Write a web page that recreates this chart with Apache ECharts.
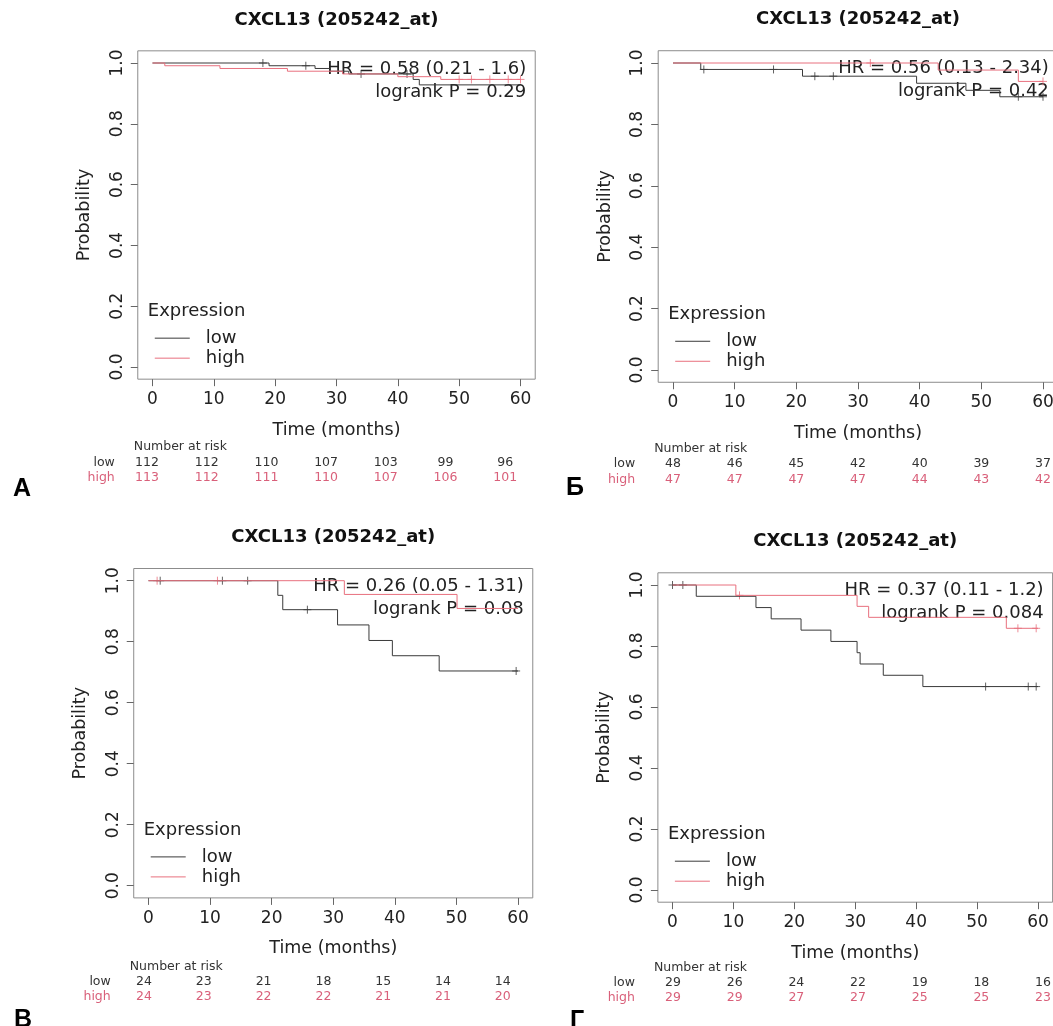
<!DOCTYPE html>
<html><head><meta charset="utf-8">
<script src="https://cdn.jsdelivr.net/npm/echarts@6/dist/echarts.min.js"></script>
<style>html,body{margin:0;padding:0;background:#fff}#c{width:1053px;height:1026px}</style>
</head><body><div id="c"></div>
<script>
// ---------------- data ----------------
const timeTicks = [0, 10, 20, 30, 40, 50, 60];
const probTicks = [0, 0.2, 0.4, 0.6, 0.8, 1.0];
const panelLetters = ['A', 'Б', 'В', 'Г'];
const chartTitle = 'CXCL13 (205242_at)';
const hrLabels = ['HR = 0.58 (0.21 - 1.6)', 'HR = 0.56 (0.13 - 2.34)', 'HR = 0.26 (0.05 - 1.31)', 'HR = 0.37 (0.11 - 1.2)'];
const pLabels = ['logrank P = 0.29', 'logrank P = 0.42', 'logrank P = 0.08', 'logrank P = 0.084'];
const groupNames = ['low', 'high'];

// Kaplan-Meier curves: [time (months), survival probability]
const lowCurveA  = [[0,1],[19,0.991],[26.5,0.982],[29,0.973],[32,0.964],[42.5,0.946],[43.5,0.928],[60,0.928]];
const highCurveA = [[0,1],[2,0.991],[11,0.982],[22,0.973],[31,0.964],[40,0.955],[47,0.946],[60,0.946]];
const lowCensA   = [[18,1],[25,0.991],[34,0.964],[41.5,0.964]];
const highCensA  = [[50,0.946],[52,0.946],[55,0.946],[58,0.946],[60,0.946]];

const lowCurveB  = [[0,1],[4.5,0.979],[21,0.957],[39.5,0.934],[47.5,0.911],[53,0.89],[60,0.89]];
const highCurveB = [[0,1],[43,0.977],[56,0.94],[60,0.94]];
const lowCensB   = [[5,0.979],[16.3,0.979],[23,0.957],[26,0.957],[56,0.89],[60,0.89]];
const highCensB  = [[32,1],[60,0.94]];

const lowCurveC  = [[0,1],[21,0.952],[21.8,0.905],[30.7,0.855],[35.8,0.804],[39.6,0.754],[47.2,0.704],[60,0.704]];
const highCurveC = [[0,1],[31.8,0.955],[50.1,0.909],[60,0.909]];
const lowCensC   = [[1.9,1],[12,1],[16.1,1],[25.8,0.905],[59.7,0.704]];
const highCensC  = [[1.4,1],[11.2,1]];

const lowCurveD  = [[0,1],[3.9,0.963],[13.7,0.926],[16.2,0.889],[21.1,0.852],[26,0.815],[30.3,0.778],[30.8,0.741],[34.6,0.704],[41.1,0.667],[60,0.667]];
const highCurveD = [[0,1],[10.4,0.966],[30.3,0.93],[32.2,0.894],[54.8,0.858],[60,0.858]];
const lowCensD   = [[0,1],[1.7,1],[51.4,0.667],[58.4,0.667],[59.7,0.667]];
const highCensD  = [[11,0.966],[56.7,0.858],[59.7,0.858]];

// Number at risk (at 0,10,...,60 months)
const riskLowA  = [112,112,110,107,103,99,96];
const riskHighA = [113,112,111,110,107,106,101];
const riskLowB  = [48,46,45,42,40,39,37];
const riskHighB = [47,47,47,47,44,43,42];
const riskLowC  = [24,23,21,18,15,14,14];
const riskHighC = [24,23,22,22,21,21,20];
const riskLowD  = [29,26,24,22,19,18,16];
const riskHighD = [29,29,27,27,25,25,23];

// ---------------- layout ----------------
const FONT = '"DejaVu Sans", sans-serif';
const LOW_COLOR = '#3a3a3a';
const HIGH_COLOR = '#e8707e';
const RISK_HIGH_COLOR = '#d9607a';
const BOX_COLOR = '#8c8c8c';

// pixel position of t=0, t=60, S=1, S=0 for each panel
const layout = [
  {x0:152.5, x60:520.5, y1:63,    y0:367,   riskX0:147, riskStep:59.7,  riskY:[447,463,478], letterXY:[22,489]},
  {x0:673,   x60:1043,  y1:63,    y0:370,   riskX0:673, riskStep:61.67, riskY:[449,464,480], letterXY:[575,488]},
  {x0:148.5, x60:518,   y1:580.7, y0:885.7, riskX0:144, riskStep:59.8,  riskY:[967,982,997], letterXY:[23,1020]},
  {x0:672.5, x60:1038,  y1:585,   y0:890,   riskX0:673, riskStep:61.67, riskY:[968,983,998], letterXY:[577,1021]}
];

const panels = [
  {low: lowCurveA, high: highCurveA, lowC: lowCensA, highC: highCensA, rLow: riskLowA, rHigh: riskHighA},
  {low: lowCurveB, high: highCurveB, lowC: lowCensB, highC: highCensB, rLow: riskLowB, rHigh: riskHighB},
  {low: lowCurveC, high: highCurveC, lowC: lowCensC, highC: highCensC, rLow: riskLowC, rHigh: riskHighC},
  {low: lowCurveD, high: highCurveD, lowC: lowCensD, highC: highCensD, rLow: riskLowD, rHigh: riskHighD}
];

const PLUS = 'path://M5,0L5,10M0,5L10,5';

const grids = [], xAxes = [], yAxes = [], series = [], graphics = [];

layout.forEach((L, i) => {
  const xr = L.x60 - L.x0, yr = L.y0 - L.y1;
  const g = {left: L.x0 - 0.04 * xr, top: L.y1 - 0.04 * yr, width: 1.08 * xr, height: 1.08 * yr};
  const gRight = g.left + g.width, gBottom = g.top + g.height, gCx = g.left + g.width / 2;
  grids.push({left: g.left, top: g.top, width: g.width, height: g.height, show: true,
    borderColor: BOX_COLOR, borderWidth: 1, backgroundColor: 'transparent',
    containLabel: false, outerBoundsMode: 'none'});
  xAxes.push({gridIndex: i, type: 'value', min: -2.4, max: 62.4, position: 'bottom',
    axisLine: {show: false, onZero: false},
    axisTick: {show: true, inside: false, customValues: timeTicks, length: 7, lineStyle: {color: '#666'}},
    axisLabel: {customValues: timeTicks, margin: 12, fontSize: 17, color: '#222', fontFamily: FONT},
    splitLine: {show: false},
    name: 'Time (months)', nameLocation: 'middle', nameGap: 42,
    nameTextStyle: {fontSize: 17.5, color: '#222', fontFamily: FONT}});
  yAxes.push({gridIndex: i, type: 'value', min: -0.04, max: 1.04, position: 'left',
    axisLine: {show: false, onZero: false},
    axisTick: {show: true, inside: false, customValues: probTicks, length: 7, lineStyle: {color: '#666'}},
    axisLabel: {customValues: probTicks, rotate: 90, margin: 12, fontSize: 17, color: '#222', fontFamily: FONT,
      formatter: v => v.toFixed(1)},
    splitLine: {show: false},
    name: 'Probability', nameLocation: 'middle', nameGap: 44,
    nameTextStyle: {fontSize: 17.5, color: '#222', fontFamily: FONT}});

  const P = panels[i];
  const base = {xAxisIndex: i, yAxisIndex: i, silent: true, animation: false};
  series.push(Object.assign({type: 'line', name: groupNames[0], data: P.low, step: 'end', showSymbol: false,
    lineStyle: {color: LOW_COLOR, width: 1}, itemStyle: {color: LOW_COLOR}}, base));
  series.push(Object.assign({type: 'line', name: groupNames[1], data: P.high, step: 'end', showSymbol: false,
    lineStyle: {color: HIGH_COLOR, width: 1}, itemStyle: {color: HIGH_COLOR}}, base));
  series.push(Object.assign({type: 'scatter', data: P.lowC, symbol: PLUS, symbolSize: 8,
    itemStyle: {color: 'rgba(0,0,0,0)', borderColor: LOW_COLOR, borderWidth: 1}}, base));
  series.push(Object.assign({type: 'scatter', data: P.highC, symbol: PLUS, symbolSize: 8,
    itemStyle: {color: 'rgba(0,0,0,0)', borderColor: HIGH_COLOR, borderWidth: 1}}, base));

  // title
  graphics.push({type: 'text', style: {x: gCx, y: g.top - 31, text: chartTitle,
    font: 'bold 18px ' + FONT, fill: '#111', align: 'center', verticalAlign: 'middle'}});
  // HR and logrank
  graphics.push({type: 'text', style: {x: gRight - 9, y: g.top + 18, text: hrLabels[i],
    font: '18px ' + FONT, fill: '#222', align: 'right', verticalAlign: 'middle'}});
  graphics.push({type: 'text', style: {x: gRight - 9, y: g.top + 41, text: pLabels[i],
    font: '18px ' + FONT, fill: '#222', align: 'right', verticalAlign: 'middle'}});
  // legend
  graphics.push({type: 'text', style: {x: g.left + 10, y: gBottom - 68, text: 'Expression',
    font: '18px ' + FONT, fill: '#222', align: 'left', verticalAlign: 'middle'}});
  [[groupNames[0], LOW_COLOR, gBottom - 41], [groupNames[1], HIGH_COLOR, gBottom - 21]].forEach(([nm, col, yy]) => {
    graphics.push({type: 'line', shape: {x1: g.left + 17, y1: yy, x2: g.left + 52, y2: yy},
      style: {stroke: col, lineWidth: 1}});
    graphics.push({type: 'text', style: {x: g.left + 68, y: yy, text: nm,
      font: '18px ' + FONT, fill: '#222', align: 'left', verticalAlign: 'middle'}});
  });
  // number at risk table
  graphics.push({type: 'text', style: {x: g.left - 4, y: L.riskY[0], text: 'Number at risk',
    font: '12.5px ' + FONT, fill: '#333', align: 'left', verticalAlign: 'middle'}});
  graphics.push({type: 'text', style: {x: g.left - 23, y: L.riskY[1], text: groupNames[0],
    font: '12.5px ' + FONT, fill: '#333', align: 'right', verticalAlign: 'middle'}});
  graphics.push({type: 'text', style: {x: g.left - 23, y: L.riskY[2], text: groupNames[1],
    font: '12.5px ' + FONT, fill: RISK_HIGH_COLOR, align: 'right', verticalAlign: 'middle'}});
  timeTicks.forEach((t, k) => {
    const xx = L.riskX0 + L.riskStep * t / 10;
    graphics.push({type: 'text', style: {x: xx, y: L.riskY[1], text: String(P.rLow[k]),
      font: '12.5px ' + FONT, fill: '#333', align: 'center', verticalAlign: 'middle'}});
    graphics.push({type: 'text', style: {x: xx, y: L.riskY[2], text: String(P.rHigh[k]),
      font: '12.5px ' + FONT, fill: RISK_HIGH_COLOR, align: 'center', verticalAlign: 'middle'}});
  });
  // panel letter
  graphics.push({type: 'text', style: {x: L.letterXY[0], y: L.letterXY[1], text: panelLetters[i],
    font: 'bold 25px "Liberation Sans", sans-serif', fill: '#000', align: 'center', verticalAlign: 'middle'}});
});

const chart = echarts.init(document.getElementById('c'), null, {renderer: 'canvas'});
chart.setOption({
  animation: false,
  backgroundColor: '#fff',
  grid: grids, xAxis: xAxes, yAxis: yAxes, series: series,
  graphic: {elements: graphics}
});
</script>
</body></html>
